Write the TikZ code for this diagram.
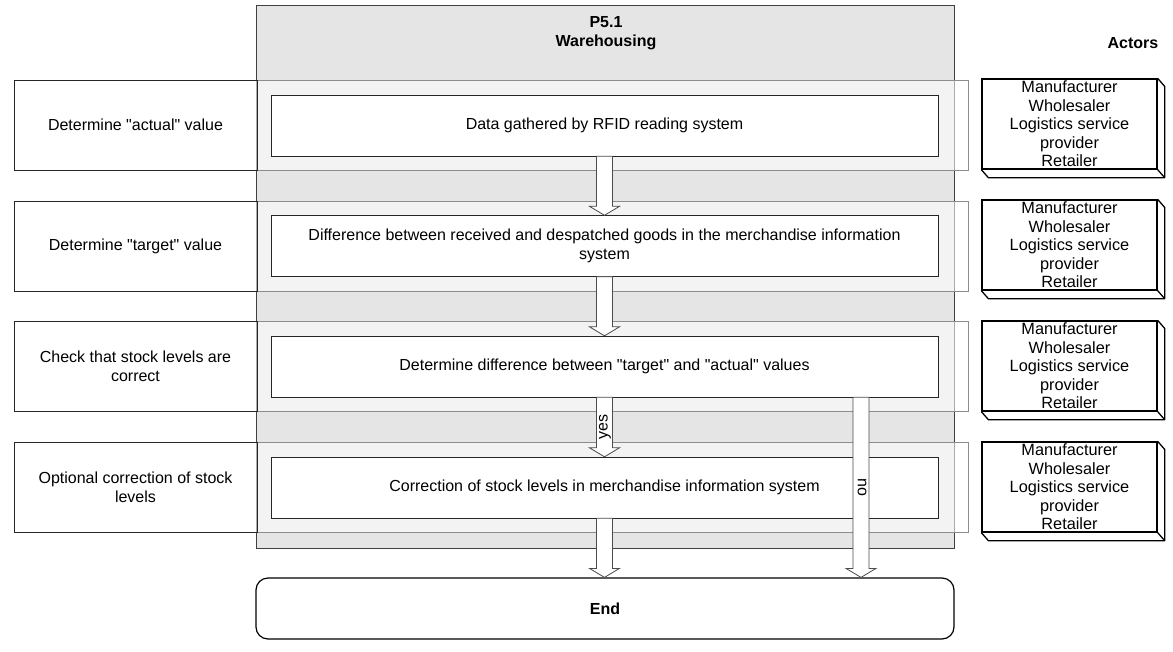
\documentclass[tikz,border=0pt]{standalone}
\usepackage{fontspec}
\setmainfont{Liberation Sans}[Ligatures=TeXOff]
\usetikzlibrary{calc}
\newcommand{\blkarrow}[2]{%
  \path let \p1=(#1), \p2=(#2) in
    [blockarr] (\x1-8pt,\y1) -- (\x1-8pt,\y2+9pt) -- (\x1-15pt,\y2+9pt) --
    (\x1,\y2) -- (\x1+15pt,\y2+9pt) -- (\x1+8pt,\y2+9pt) -- (\x1+8pt,\y1) -- cycle;}
\begin{document}
\begin{tikzpicture}[x=1pt,y=-1pt,
  txt/.style={font=\fontsize{16}{18.5}\selectfont, align=center},
  bold/.style={font=\fontsize{16}{18.5}\selectfont\bfseries, align=center},
  band/.style={draw=black!45, fill=white, fill opacity=0.56, minimum width=954pt, minimum height=90pt, inner sep=0pt},
  lbl/.style={txt, draw=black!85, minimum width=243pt, minimum height=90pt, inner sep=0pt},
  stepbox/.style={txt, draw=black!85, fill=white, minimum width=667pt, minimum height=61pt, inner sep=0pt},
  actor/.style={font=\fontsize{16.3}{18.5}\selectfont, align=center, draw=black, line width=1.3pt, minimum width=175pt, minimum height=90pt, inner sep=0pt},
  depth/.style={draw=black, line width=1.3pt, line join=round},
  blockarr/.style={draw=black!70, fill=white, line width=0.8pt, line join=miter},
  endbox/.style={bold, draw=black, line width=1.2pt, rounded corners=12pt, minimum width=698pt, minimum height=61pt, inner sep=0pt},
]
\useasboundingbox (0,0) rectangle (1173,651);
% gray column
\node[draw=black!75, fill=black!10, line width=0.9pt, minimum width=698pt, minimum height=543pt, inner sep=0pt] (col) at (605,276.5) {};
\node[bold] (title) at (606,33) {P5.1\\Warehousing};
\node[bold] (actors) at (1133,43) {Actors};
% bands
\foreach \i/\y in {1/125,2/246,3/366.5,4/487.5}{
  \node[band] (band\i) at (491,\y) {};
}
% left labels
\node[lbl] (l1) at (135.5,125) {Determine "actual" value};
\node[lbl] (l2) at (135.5,246) {Determine "target" value};
\node[lbl] (l3) at (135.5,366.5) {Check that stock levels are\\correct};
\node[lbl] (l4) at (135.5,487.5) {Optional correction of stock\\levels};
% steps
\node[stepbox] (b1) at (604.5,125.5) {Data gathered by RFID reading system};
\node[stepbox] (b2) at (604.5,246) {Difference between received and despatched goods in the merchandise information\\system};
\node[stepbox] (b3) at (604.5,366.5) {Determine difference between "target" and "actual" values};
\node[stepbox] (b4) at (604.5,487.5) {Correction of stock levels in merchandise information system};
% actors
\foreach \i/\y in {1/124,2/245,3/366,4/487}{
  \node[actor] (a\i) at (1069.5,\y) {Manufacturer\\Wholesaler\\Logistics service\\provider\\Retailer};
  \draw[depth] (a\i.north east) -- ++(7,8) -- ($(a\i.south east)+(7,8)$) -- ($(a\i.south west)+(7,8)$) -- (a\i.south west);
  \draw[depth] (a\i.south east) -- ++(7,8);
}
% end
\node[endbox] (end) at (605,608.5) {End};
% arrows
\blkarrow{b1.south}{b2.north}
\blkarrow{b2.south}{b3.north}
\blkarrow{b3.south}{b4.north}
\blkarrow{b4.south}{end.north}
\coordinate (nox) at (861,0);
\coordinate (nos) at (b3.south -| nox);
\coordinate (noe) at (end.north -| nox);
\blkarrow{nos}{noe}
\node[txt, rotate=90] (yes) at (605,427) {yes};
\node[txt, rotate=-90] (no) at (862,487) {no};
\end{tikzpicture}
\end{document}
